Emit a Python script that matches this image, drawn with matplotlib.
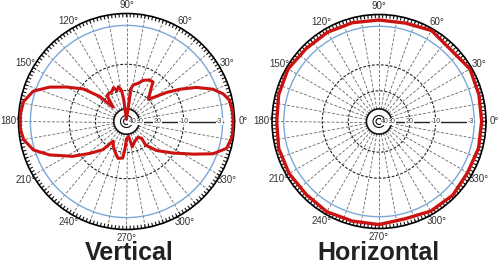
import numpy as np
import matplotlib

matplotlib.use('Agg')

import matplotlib.pyplot as plt

plt.rcParams['font.family'] = ['Liberation Sans', 'DejaVu Sans']

# ring levels (dB) and where they sit on the chart (fraction of outer radius)
ring_db = [-60, -50, -40, -30, -20, -10, -3, 0]
ring_r = [0.0, 0.028, 0.056, 0.118, 0.287, 0.53, 0.89, 1.0]

# vertical plane pattern, angle in degrees, gain in dB
v_angle = [0, 6, 12, 16, 20.5, 26, 31, 36, 41, 45.5, 54.5, 56, 61, 68, 73, 79.5,
           83, 82.5, 83, 87, 90, 93, 97, 97, 99, 103, 107, 111, 116, 122, 127,
           133, 137, 143, 150, 156, 162, 169, 176, 184, 190, 197, 203.5, 213,
           221, 230, 236, 242, 249, 257, 264, 267, 270, 278, 283, 292, 306, 312,
           309, 316, 326, 334, 339.5, 345, 352, 360]
v_gain = [-0.3, -0.4, -0.8, -1.9, -3.7, -6.3, -9.0, -13.0, -17.6, -19.9, -15.3,
          -13.7, -13.7, -14.9, -16.6, -17.6, -19.5, -25.1, -31.3, -45.7, -53,
          -45.7, -31.3, -25.1, -19.9, -18.2, -19.5, -18.0, -19.1, -19.1, -19.5,
          -26.3, -17.8, -11.2, -7.9, -5.1, -2.5, -0.8, -0.4, -0.4, -0.9, -2.7,
          -5.2, -8.8, -13.3, -17.8, -24.0, -21.6, -19.5, -17.4, -17.8, -22.2,
          -27.5, -28.7, -22.8, -25.1, -26.3, -24.5, -20.4, -15.9, -10.3, -6.9,
          -3.7, -1.1, -0.3, -0.3]

# horizontal plane pattern
h_angle = [0, 15, 30, 45, 60, 75, 90, 105, 120, 135, 150, 165, 180, 195, 210,
           225, 240, 255, 270, 285, 300, 315, 330, 345, 360]
h_gain = [-1.1, -0.9, -0.5, -1.4, -0.5, -1.3, -1.4, -1.2, -1.0, -1.0, -0.5,
          -0.8, -1.2, -0.8, -0.8, -1.0, -0.7, -1.0, -1.0, -1.6, -0.9, -0.7,
          -1.2, -1.0, -1.1]

r_labels = ['-3', '-10', '20', '30', '40']
r_label_db = [-3.6, -10, -20, -30, -40]


def fwd(x):
    return np.interp(x, ring_db, ring_r)


def inv(x):
    return np.interp(x, ring_r, ring_db)


def pattern_axes(fig, rect, angles, gains, lw):
    ax = fig.add_axes(rect, projection='polar')
    ax.set_rscale('function', functions=(fwd, inv))
    ax.set_rlim(-60, 0)
    ax.grid(False)
    ax.set_yticks([])

    full = np.linspace(0, 2 * np.pi, 361)
    # spokes every 10 degrees
    for a in range(10, 360, 10):
        ax.plot([np.deg2rad(a)] * 2, [-30, 0], color='#666666', lw=0.6,
                ls=(0, (3.5, 2)), zorder=1)
    ax.plot([0, 0], [-30, -3], color='#222222', lw=1.0, zorder=1)
    for lev in [-20, -10]:
        ax.plot(full, np.full_like(full, lev), color='#222222', lw=0.8,
                ls=(0, (2.5, 1.5)), zorder=1)
    ax.plot(full, np.full_like(full, -30), color='#111111', lw=1.2, zorder=1)
    ax.plot(full, np.full_like(full, -40), color='#111111', lw=0.8, zorder=1)
    ax.plot(full, np.full_like(full, -50), color='#111111', lw=0.8, zorder=1)
    ax.plot(full, np.full_like(full, -3), color='#7aa8d8', lw=1.0, zorder=1)

    # tick ring on the outer edge, one tick every 2 degrees
    tk = np.deg2rad(np.arange(0, 360, 2))
    tt = np.column_stack([tk, tk, np.full_like(tk, np.nan)]).ravel()
    tr = np.tile([-0.8, 0.0, np.nan], len(tk))
    ax.plot(tt, tr, color='#111111', lw=0.8, zorder=2)

    for lab, lev in zip(r_labels, r_label_db):
        ax.text(0, lev, lab, fontsize=5, color='#444444', ha='center',
                va='center', zorder=2,
                bbox=dict(boxstyle='square,pad=0.05', fc='white', ec='none'))

    ax.plot(np.deg2rad(angles), gains, color='#cc1111', lw=lw, zorder=3,
            solid_joinstyle='round')

    ax.set_xticks(np.deg2rad(np.arange(0, 360, 30)))
    ax.set_xticklabels([f'{a}°' for a in range(0, 360, 30)], fontsize=7,
                       color='#333333')
    ax.tick_params(axis='x', which='both', length=0, pad=-1)
    ax.spines['polar'].set_linewidth(1.2)
    return ax


fig = plt.figure(figsize=(5, 2.7), dpi=100)
pattern_axes(fig, [0.037, 0.15, 0.432, 0.8], v_angle, v_gain, 2.2)
pattern_axes(fig, [0.544, 0.1537, 0.428, 0.7926], h_angle, h_gain, 2.4)

fig.text(0.258, 0.064, 'Vertical', fontsize=18, fontweight='bold',
         color='#222222', ha='center', va='center')
fig.text(0.756, 0.064, 'Horizontal', fontsize=18, fontweight='bold',
         color='#222222', ha='center', va='center')

fig.savefig('out.png', dpi=100)
